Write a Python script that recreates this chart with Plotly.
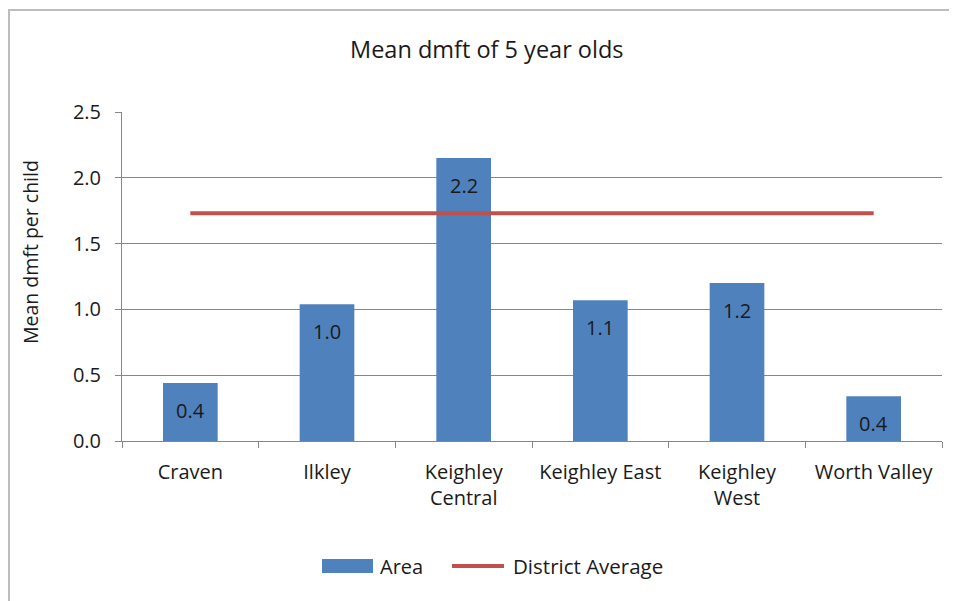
import plotly.graph_objects as go

categories = ["Craven", "Ilkley", "Keighley<br>Central", "Keighley East", "Keighley<br>West", "Worth Valley"]
area_values = [0.44, 1.04, 2.15, 1.07, 1.20, 0.34]
area_labels = ["0.4", "1.0", "2.2", "1.1", "1.2", "0.4"]
district_avg = [1.73, 1.73, 1.73, 1.73, 1.73, 1.73]
y_ticks = [0.0, 0.5, 1.0, 1.5, 2.0, 2.5]
y_tick_labels = ["0.0", "0.5", "1.0", "1.5", "2.0", "2.5"]

OFF = 8  # page body margin offset
W, H = 957 - OFF, 601 - OFF
# target pixel positions in the screenshot
PL, PR, PT, PB = 122, 942, 112, 441
L = PL - OFF
T = PT - OFF
R = W - (PR - OFF)
B = H - (PB - OFF)
pw, ph = W - L - R, H - T - B

font = "Open Sans, Noto Sans, sans-serif"
txt = "#1a1a1a"
blue = "#4F81BD"
red = "#C0504D"


def fx(px):
    return (px - PL) / pw


def fy(py):
    return (PB - py) / ph


fig = go.Figure()
fig.add_trace(go.Bar(
    x=categories, y=area_values, name="Area",
    marker=dict(color=blue, line=dict(width=0)),
    width=0.4, showlegend=False,
))
fig.add_trace(go.Scatter(
    x=categories, y=district_avg, name="District Average", mode="lines",
    line=dict(color=red, width=4), showlegend=False,
))

shapes = [
    dict(type="path", xref="paper", yref="paper",
         path=f"M {fx(9)} {fy(620)} L {fx(9)} {fy(10)} L {fx(980)} {fy(10)}",
         line=dict(color="#BDBDBD", width=2), layer="below"),
    # legend swatches
    dict(type="rect", xref="paper", yref="paper",
         x0=fx(322), x1=fx(373), y0=fy(573), y1=fy(559),
         line=dict(width=0), fillcolor=blue),
    dict(type="line", xref="paper", yref="paper",
         x0=fx(452), x1=fx(504), y0=fy(566), y1=fy(566),
         line=dict(color=red, width=4)),
]

annotations = [
    dict(text="Area", xref="paper", yref="paper", x=fx(378), y=fy(566),
         xanchor="left", yanchor="middle", showarrow=False, font=dict(size=20)),
    dict(text="District Average", xref="paper", yref="paper", x=fx(511), y=fy(566),
         xanchor="left", yanchor="middle", showarrow=False, font=dict(size=20.5)),
    dict(text="Mean dmft per child", xref="paper", yref="paper", x=fx(31), y=fy(252),
         xanchor="center", yanchor="middle", textangle=-90, showarrow=False, font=dict(size=19.5)),
    dict(text="Mean dmft of 5 year olds", xref="paper", yref="paper", x=fx(487), y=fy(49),
         xanchor="center", yanchor="middle", showarrow=False, font=dict(size=23.5)),
]
for c, v, lab in zip(categories, area_values, area_labels):
    annotations.append(dict(text=lab, x=c, y=v, xref="x", yref="y", yshift=-27,
                            xanchor="center", yanchor="middle", showarrow=False,
                            font=dict(size=20, color=txt)))

fig.update_layout(
    width=W, height=H,
    margin=dict(l=L, r=R, t=T, b=B, autoexpand=False),
    paper_bgcolor="white", plot_bgcolor="white",
    font=dict(family=font, size=20, color=txt),
    showlegend=False,
    shapes=shapes, annotations=annotations,
)
fig.update_xaxes(
    showline=True, linecolor="#878787", linewidth=1,
    ticks="outside", tickson="boundaries", ticklen=6, tickcolor="#878787",
    tickfont=dict(size=20), showgrid=False, ticklabelstandoff=13, automargin=False,
)
fig.update_yaxes(
    range=[0, 2.5], tickvals=y_ticks, ticktext=y_tick_labels,
    showline=True, linecolor="#878787", linewidth=1,
    ticks="outside", ticklen=6, tickcolor="#878787",
    showgrid=True, gridcolor="#868686", gridwidth=1,
    tickfont=dict(size=20), zeroline=False, ticklabelstandoff=10, automargin=False,
)

fig.write_html("out.html")
